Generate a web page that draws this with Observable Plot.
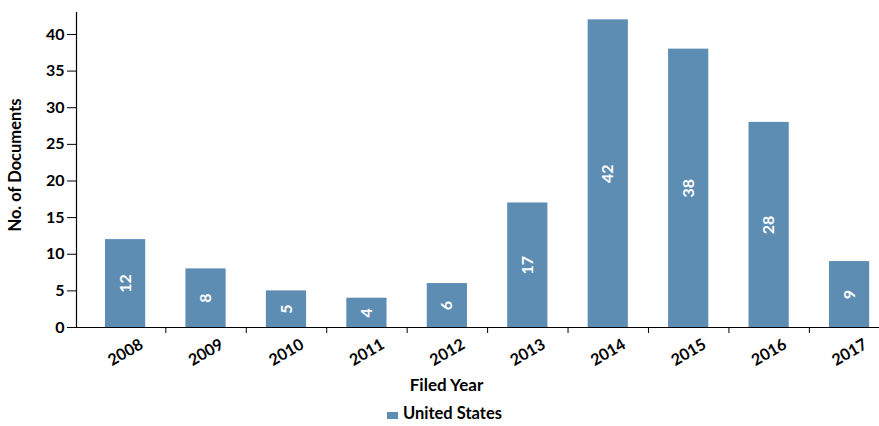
<!DOCTYPE html>
<html><head><meta charset="utf-8">
<script src="https://cdn.jsdelivr.net/npm/d3@7"></script>
<script src="https://cdn.jsdelivr.net/npm/@observablehq/plot@0.6"></script>
<style>
body{margin:0;background:#fff;font-family:Lato,"Open Sans",sans-serif;}
#wrap{position:relative;width:879px;height:426px;}
#legend{position:absolute;left:387px;top:403px;display:flex;align-items:center;font-weight:bold;font-size:16.5px;color:#000;}
#legend .sw{width:11px;height:7px;margin-right:5px;margin-top:4px;}
</style>
</head><body><div id="wrap"><div id="chart"></div><div id="legend"></div></div>
<script>
const years = ["2008","2009","2010","2011","2012","2013","2014","2015","2016","2017"];
const counts = [12, 8, 5, 4, 6, 17, 42, 38, 28, 9];
const yTicks = [0, 5, 10, 15, 20, 25, 30, 35, 40];
const seriesName = "United States";
const yLabel = "No. of Documents";
const xLabel = "Filed Year";
const barColor = "#5e8db4";

const data = years.map((y, i) => ({year: y, count: counts[i]}));

const plot = Plot.plot({
  width: 879, height: 395,
  marginLeft: 76, marginRight: 0, marginTop: 12, marginBottom: 68,
  style: {fontFamily: "Lato, 'Open Sans', sans-serif", fontWeight: "bold", fontSize: "16px", color: "#000", background: "#fff"},
  x: {domain: years, range: [64.75, 909.4], padding: 0.5, round: false, label: null, axis: null},
  y: {domain: [0, 43], label: null, axis: null},
  marks: [
    Plot.barY(data, {x: "year", y: "count", fill: barColor}),
    Plot.text(data, {x: "year", y: d => d.count / 2, text: d => String(d.count), rotate: -90, fill: "white", fontSize: 16, fontWeight: "bold"}),
    Plot.ruleY([0], {stroke: "#000", strokeWidth: 1.2}),
    Plot.frame({anchor: "left", stroke: "#000", strokeWidth: 1.2}),
    Plot.axisY({ticks: yTicks, tickSize: 9, tickPadding: 3, label: null, fontSize: 16, fontWeight: "bold"}),
    Plot.axisX({ticks: years.slice(1), text: null, tickSize: 6, dx: -40.2, label: null}),
    Plot.text(years, {x: d => d, frameAnchor: "bottom", dy: 25, rotate: -30, textAnchor: "middle", lineAnchor: "middle", fontSize: 16, fontWeight: "bold"}),
    Plot.text([xLabel], {frameAnchor: "bottom", dx: -31.5, dy: 58, textAnchor: "middle", lineAnchor: "middle", fontSize: 17, fontWeight: "bold"}),
    Plot.text([yLabel], {frameAnchor: "left", dx: -61, dy: -5, rotate: -90, textAnchor: "middle", lineAnchor: "middle", fontSize: 16.5, fontWeight: "bold"})
  ]
});
document.getElementById("chart").appendChild(plot);

const lg = document.getElementById("legend");
lg.innerHTML = `<span class="sw" style="background:${barColor}"></span><span>${seriesName}</span>`;
</script>
</body></html>
